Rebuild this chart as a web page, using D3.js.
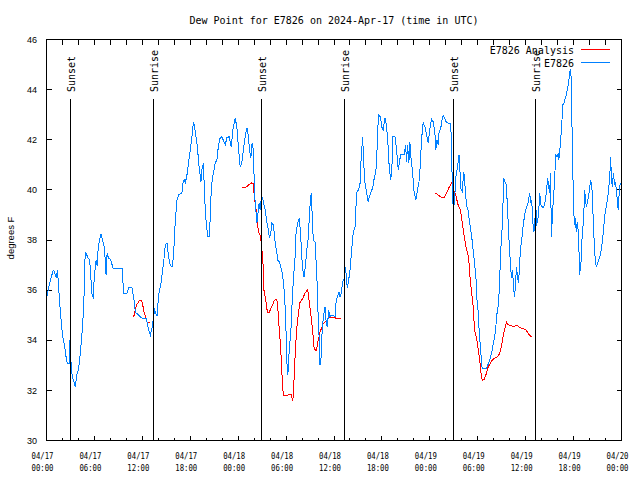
<!DOCTYPE html>
<html><head><meta charset="utf-8">
<script src="https://cdn.jsdelivr.net/npm/d3@7"></script>
<style>body{margin:0;background:#fff}</style>
</head><body><svg id="c" width="640" height="480" style="display:block;background:#fff"></svg>
<script>
const chartTitle = "Dew Point for E7826 on 2024-Apr-17 (time in UTC)";
const yAxisLabel = "degrees F";
const startTime = Date.UTC(2024, 3, 17, 0, 0);
const endTime = Date.UTC(2024, 3, 20, 0, 0);
const yTickValues = [30, 32, 34, 36, 38, 40, 42, 44, 46];
const legendNames = ["E7826 Analysis", "E7826"];

// [hours since 04/17 00:00 UTC, dew point °F]
const observedE7826 = [
[0.06,35.76],[0.25,36.08],[0.5,36.4],[0.84,36.8],[1.0,36.72],[1.21,36.52],[1.38,36.8],[1.54,36.0],[1.75,35.08],[2.0,34.2],
[2.25,33.8],[2.38,33.52],[2.5,33.2],[2.63,33.08],[2.88,33.08],[2.94,34.0],[3.0,33.52],[3.13,32.8],[3.25,32.52],[3.38,32.4],
[3.5,32.28],[3.63,32.12],[3.75,32.6],[4.0,32.8],[4.25,33.52],[4.5,34.48],[4.63,35.2],[4.75,36.2],[4.84,37.52],[4.96,37.48],
[5.19,37.28],[5.41,37.2],[5.59,36.32],[5.71,35.8],[5.84,35.72],[6.0,36.6],[6.21,37.2],[6.34,36.96],[6.46,37.6],[6.63,38.0],
[6.84,38.24],[7.0,38.0],[7.25,37.72],[7.46,36.6],[7.59,37.48],[7.75,37.28],[8.0,37.24],[8.34,36.88],[9.46,36.88],[9.66,35.88],
[10.09,35.88],[10.29,36.12],[10.71,36.08],[10.91,35.72],[11.13,35.12],[11.96,34.88],[12.5,34.88],[12.79,34.4],[13.0,34.2],[13.21,34.48],
[13.54,35.2],[13.84,34.96],[14.04,35.8],[14.34,36.28],[14.66,37.08],[14.88,37.8],[15.09,37.88],[15.29,37.32],[15.5,37.0],[15.71,36.92],
[15.91,37.32],[16.04,38.32],[16.21,39.08],[16.34,39.6],[16.54,39.8],[16.96,39.88],[17.09,40.28],[17.25,40.4],[17.38,40.28],[17.59,40.6],
[17.79,41.08],[18.0,41.6],[18.21,42.12],[18.41,42.72],[18.54,42.52],[18.71,42.12],[18.91,41.72],[19.04,41.08],[19.34,40.32],[19.46,40.8],
[19.66,41.08],[19.79,39.72],[20.0,38.68],[20.21,38.12],[20.41,38.12],[20.59,39.72],[20.75,40.4],[20.91,40.68],[21.13,41.08],[21.34,41.2],
[21.54,41.8],[21.75,42.08],[21.96,42.12],[22.38,41.8],[22.59,42.08],[22.88,42.12],[23.13,41.72],[23.34,42.4],[23.63,42.88],[23.84,42.48],
[24.04,41.68],[24.25,40.92],[24.46,41.08],[24.66,41.6],[24.88,42.12],[25.09,42.48],[25.29,42.12],[25.41,41.6],[25.59,41.28],[25.75,41.88],
[25.91,41.6],[26.04,39.88],[26.21,39.2],[26.34,38.68],[26.46,39.0],[26.63,39.48],[26.75,39.2],[26.88,39.6],[27.04,39.68],[27.16,39.52],
[27.38,39.2],[27.59,38.72],[27.79,38.4],[27.91,38.08],[28.09,38.28],[28.21,38.68],[28.41,38.6],[28.54,38.2],[28.66,37.8],[28.84,37.52],
[28.96,37.2],[29.16,37.12],[29.34,36.92],[29.54,36.68],[29.66,36.28],[29.79,35.88],[29.88,35.32],[30.0,34.28],[30.09,33.2],[30.21,32.6],
[30.29,32.92],[30.41,33.72],[30.59,34.28],[30.71,35.2],[30.84,36.0],[30.91,36.4],[31.13,37.32],[31.25,38.28],[31.46,38.68],[31.66,38.88],
[31.84,38.12],[31.96,37.32],[32.09,36.8],[32.25,36.52],[32.41,36.92],[32.59,37.6],[32.75,38.0],[32.91,38.88],[33.04,39.6],[33.16,39.88],
[33.29,38.8],[33.41,38.0],[33.63,37.92],[33.75,37.2],[33.91,36.12],[34.04,34.68],[34.16,34.0],[34.25,33.0],[34.38,33.32],[34.5,34.28],
[34.66,34.92],[34.88,35.32],[35.0,34.8],[35.16,34.52],[35.34,35.2],[35.5,34.92],[35.66,35.0],[36.13,34.96],[36.25,35.48],[36.41,35.72],
[36.63,35.92],[36.75,35.72],[36.96,35.92],[37.04,36.28],[37.29,36.48],[37.38,36.92],[37.5,36.68],[37.66,36.08],[37.79,36.28],[38.0,36.8],
[38.21,37.6],[38.41,38.32],[38.63,38.52],[38.84,39.88],[39.04,40.0],[39.25,40.2],[39.38,41.12],[39.59,42.12],[39.71,41.12],[39.88,40.28],
[40.09,39.88],[40.29,39.52],[40.41,39.72],[40.59,39.88],[40.84,40.08],[41.0,40.4],[41.21,40.68],[41.34,41.08],[41.46,42.4],[41.63,43.0],
[41.84,42.88],[41.96,42.52],[42.16,42.4],[42.38,42.88],[42.59,42.52],[42.79,41.68],[42.91,40.92],[43.09,40.4],[43.25,40.8],[43.34,42.12],
[43.63,42.12],[43.84,41.6],[44.04,40.8],[44.34,41.4],[44.79,41.4],[44.96,41.8],[45.09,41.12],[45.21,41.8],[45.38,41.08],[45.5,41.92],
[45.63,41.32],[45.84,40.68],[46.0,40.0],[46.25,39.6],[46.41,39.92],[46.63,40.28],[46.75,40.72],[46.96,42.0],[47.16,42.68],[47.38,42.52],
[47.59,42.2],[47.79,41.88],[48.0,42.4],[48.21,42.84],[48.41,42.72],[48.63,42.32],[48.75,41.6],[48.91,42.0],[49.04,41.8],[49.16,42.32],
[49.38,42.48],[49.54,42.84],[49.66,42.96],[49.88,42.84],[50.09,42.68],[50.63,42.64],[50.71,41.4],[50.79,40.6],[50.84,39.6],[50.96,39.28],
[51.09,39.52],[51.25,40.52],[51.41,40.8],[51.54,41.08],[51.66,41.4],[51.75,40.88],[51.91,40.0],[52.09,39.92],[52.21,40.72],[52.34,40.52],
[52.46,39.88],[52.63,39.32],[52.79,39.2],[52.91,38.88],[53.0,38.68],[53.16,38.32],[53.34,37.88],[53.46,37.48],[53.59,37.12],[53.71,36.68],
[53.84,36.28],[53.91,35.6],[54.04,35.2],[54.16,34.48],[54.29,33.88],[54.41,33.4],[54.54,32.92],[54.66,32.88],[55.09,32.88],[55.21,32.96],
[55.38,33.12],[55.59,33.32],[55.75,33.52],[55.91,33.8],[56.09,34.08],[56.25,34.48],[56.38,35.0],[56.54,35.32],[56.66,35.8],[56.75,36.48],
[56.88,37.6],[57.0,38.12],[57.13,39.08],[57.25,40.48],[57.41,40.32],[57.59,40.2],[57.71,39.32],[57.84,38.52],[57.96,37.68],[58.09,37.12],
[58.21,36.48],[58.34,36.8],[58.46,36.28],[58.59,35.72],[58.71,36.08],[58.84,36.92],[58.96,36.6],[59.09,36.28],[59.21,36.8],[59.34,37.6],
[59.5,38.0],[59.63,38.4],[59.75,38.72],[59.91,39.08],[60.09,39.28],[60.29,39.48],[60.5,39.88],[60.63,39.52],[60.75,39.6],[60.91,38.68],
[61.04,38.32],[61.13,38.88],[61.25,37.92],[61.34,39.2],[61.46,38.68],[61.63,39.08],[61.75,39.88],[61.91,39.4],[62.09,39.32],[62.25,39.28],
[62.41,39.48],[62.59,39.88],[62.75,40.48],[62.88,40.12],[63.0,39.88],[63.13,40.68],[63.21,38.12],[63.41,39.32],[63.63,40.4],[63.75,41.4],
[63.91,41.32],[64.09,41.48],[64.16,41.2],[64.34,41.8],[64.5,42.52],[64.66,43.4],[64.79,43.44],[64.91,43.6],[65.09,43.8],[65.21,44.0],
[65.38,44.28],[65.5,44.68],[65.63,44.8],[65.71,44.4],[65.84,41.8],[65.91,40.6],[66.0,39.48],[66.09,38.6],[66.21,38.88],[66.34,38.32],
[66.46,38.72],[66.63,38.2],[66.75,36.6],[66.96,37.2],[67.09,38.32],[67.25,38.72],[67.38,40.0],[67.46,39.72],[67.59,39.32],[67.79,39.6],
[68.0,40.0],[68.13,40.4],[68.29,40.12],[68.41,39.2],[68.54,38.2],[68.71,37.2],[68.84,36.92],[69.04,37.12],[69.25,37.28],[69.46,37.6],
[69.59,37.92],[69.75,38.4],[69.88,38.92],[70.09,39.32],[70.29,39.72],[70.5,40.4],[70.59,40.92],[70.63,41.32],[70.71,40.72],[70.84,40.12],
[71.0,40.68],[71.13,40.2],[71.25,40.32],[71.41,39.8],[71.59,39.2],[71.66,39.6],[71.75,40.12],[71.88,40.28]
];

const analysisDay1 = [
[10.91,34.92],[11.25,35.4],[11.59,35.56],[11.84,35.6],[12.0,35.52],[12.16,35.2],[12.38,34.96],[12.59,34.72],[12.79,34.72],[13.0,34.68]
];
const analysisDay2 = [
[24.5,40.08],[25.09,40.12],[25.29,40.2],[25.5,40.24],[25.71,40.28],[25.91,40.24],[26.0,39.8],[26.13,39.48],[26.25,39.2],[26.34,38.8],
[26.46,38.52],[26.59,38.28],[26.75,38.2],[26.88,37.92],[27.0,37.52],[27.09,37.2],[27.16,36.68],[27.25,35.88],[27.41,35.72],[27.5,35.48],
[27.66,35.12],[27.91,35.12],[28.09,35.28],[28.34,35.44],[28.54,35.6],[28.84,35.64],[28.96,35.32],[29.09,34.68],[29.25,34.0],[29.38,33.32],
[29.46,32.8],[29.54,32.32],[29.66,31.8],[30.16,31.8],[30.38,31.84],[30.63,31.84],[30.71,31.72],[30.84,31.56],[30.91,31.92],[31.04,32.68],
[31.16,33.6],[31.34,34.48],[31.54,35.08],[31.75,35.52],[31.96,35.6],[32.16,35.72],[32.38,35.88],[32.66,36.0],[32.79,35.88],[32.91,35.48],
[33.09,35.08],[33.21,34.72],[33.34,34.32],[33.5,33.72],[33.66,33.6],[33.84,33.6],[33.91,33.88],[34.09,34.08],[34.21,34.28],[34.34,34.4],
[34.5,34.52],[34.66,34.68],[34.88,34.72],[35.09,34.8],[35.29,34.88],[35.5,34.92],[35.91,34.92],[36.25,34.88],[36.84,34.88]
];
const analysisDay3 = [
[48.63,39.88],[49.04,39.8],[49.34,39.72],[49.59,39.68],[49.75,39.68],[49.96,39.8],[50.16,39.92],[50.38,40.08],[50.59,40.2],[50.75,40.28],
[50.91,40.0],[51.13,39.88],[51.34,39.68],[51.46,39.48],[51.63,39.32],[51.84,39.2],[52.0,38.8],[52.16,38.48],[52.34,38.08],[52.46,37.88],
[52.59,37.6],[52.75,37.48],[52.88,37.2],[53.0,36.6],[53.13,36.2],[53.25,35.88],[53.41,35.4],[53.54,34.72],[53.66,34.32],[53.84,34.12],
[53.96,33.88],[54.09,33.52],[54.21,33.32],[54.34,32.92],[54.46,32.52],[54.63,32.4],[54.79,32.44],[54.96,32.56],[55.13,32.72],[55.29,32.92],
[55.5,33.04],[55.71,33.16],[55.91,33.24],[56.13,33.28],[56.34,33.32],[56.54,33.36],[56.75,33.48],[56.91,33.68],[57.09,34.0],[57.25,34.28],
[57.41,34.48],[57.59,34.72],[57.75,34.64],[58.0,34.6],[58.34,34.56],[58.63,34.56],[58.84,34.6],[59.04,34.56],[59.46,34.48],[59.88,34.44],
[60.09,34.4],[60.29,34.28],[60.5,34.2],[60.79,34.12]
];

const sunsetHours = [2.91, 26.91, 50.91];
const sunriseHours = [13.29, 37.29, 61.16];

// ---------- drawing ----------
const RED = "#ff0000", BLUE = "#0080ff";
const MONO = "'DejaVu Sans Mono', monospace";
const SANS = "'Liberation Sans', Arial, sans-serif";
const svg = d3.select("#c");
const toDate = h => new Date(startTime + h * 3600e3);
const x = d3.scaleUtc().domain([new Date(startTime), new Date(endTime)]).range([46.5, 621.5]);
const y = d3.scaleLinear().domain([30, 46]).range([440.5, 39.5]);
const L = x.range()[0], R = x.range()[1], T = y.range()[1], B = y.range()[0];

// title
svg.append("text").attr("x", (L + R) / 2).attr("y", 24).attr("text-anchor", "middle")
  .attr("font-family", MONO).attr("font-size", 10).text(chartTitle);

// y label
svg.append("text").attr("transform", "translate(14,238) rotate(-90)").attr("text-anchor", "middle")
  .attr("font-family", SANS).attr("font-size", 9.5).text(yAxisLabel);

const g = svg.append("g").attr("shape-rendering", "crispEdges");

// frame
g.append("rect").attr("x", L).attr("y", T).attr("width", R - L).attr("height", B - T)
  .attr("fill", "none").attr("stroke", "#000");

// y ticks + labels
const yAxisL = d3.axisLeft(y).tickValues(yTickValues).tickSize(-5).tickPadding(0).tickFormat("").offset(0);
const yAxisR = d3.axisRight(y).tickValues(yTickValues).tickSize(-5).tickFormat("").offset(0);
g.append("g").attr("transform", `translate(${L},0)`).call(yAxisL).call(s => s.select(".domain").remove());
g.append("g").attr("transform", `translate(${R},0)`).call(yAxisR).call(s => s.select(".domain").remove());
svg.append("g").selectAll("text").data(yTickValues).join("text")
  .attr("x", 37).attr("y", d => y(d)).attr("dy", "0.36em").attr("text-anchor", "end")
  .attr("font-family", SANS).attr("font-size", 9).text(d => d);

// x ticks
const minorTicks = x.ticks(d3.utcHour.every(2));
const majorTicks = x.ticks(d3.utcHour.every(6));
const isMajor = d => d.getUTCHours() % 6 === 0;
g.append("g").attr("transform", `translate(0,${B})`)
  .call(d3.axisBottom(x).tickValues(minorTicks.filter(d => !isMajor(d))).tickSize(-3).tickFormat("").offset(0))
  .call(s => s.select(".domain").remove());
g.append("g").attr("transform", `translate(0,${B})`)
  .call(d3.axisBottom(x).tickValues(majorTicks).tickSize(-5).tickFormat("").offset(0))
  .call(s => s.select(".domain").remove());
g.append("g").attr("transform", `translate(0,${T})`)
  .call(d3.axisTop(x).tickValues(minorTicks).tickSize(-5).tickFormat("").offset(0))
  .call(s => s.select(".domain").remove());

const fmtDay = d3.utcFormat("%m/%d"), fmtTime = d3.utcFormat("%H:%M");
const xl = svg.append("g").selectAll("g").data(majorTicks).join("g");
xl.append("text").attr("x", d => x(d) - 4).attr("y", 459).attr("text-anchor", "middle")
  .attr("font-family", MONO).attr("font-size", 9.5).attr("textLength", 22).attr("lengthAdjust", "spacingAndGlyphs")
  .text(d => fmtDay(d));
xl.append("text").attr("x", d => x(d) - 4).attr("y", 471).attr("text-anchor", "middle")
  .attr("font-family", MONO).attr("font-size", 9.5).attr("textLength", 22).attr("lengthAdjust", "spacingAndGlyphs")
  .text(d => fmtTime(d));

// data lines
const line = d3.line().x(d => x(toDate(d[0]))).y(d => y(d[1]));
const lines = svg.append("g").attr("fill", "none").attr("stroke-width", 1).attr("shape-rendering", "crispEdges");
[analysisDay1, analysisDay2, analysisDay3].forEach(seg =>
  lines.append("path").datum(seg).attr("stroke", RED).attr("d", line));
lines.append("path").datum(observedE7826).attr("stroke", BLUE).attr("d", line);

// sunrise / sunset markers
const sunEvents = sunsetHours.map(h => ({ h, label: "Sunset" }))
  .concat(sunriseHours.map(h => ({ h, label: "Sunrise" })));
const sg = svg.append("g");
sg.selectAll("line").data(sunEvents).join("line")
  .attr("x1", d => Math.round(x(toDate(d.h))) + 0.5).attr("x2", d => Math.round(x(toDate(d.h))) + 0.5)
  .attr("y1", 99).attr("y2", B).attr("stroke", "#000").attr("shape-rendering", "crispEdges");
sg.selectAll("text").data(sunEvents).join("text")
  .attr("transform", d => `translate(${Math.round(x(toDate(d.h))) + 5},92) rotate(-90)`)
  .attr("text-anchor", "start").attr("font-family", MONO).attr("font-size", 10).text(d => d.label);

// legend
const lg = svg.append("g");
legendNames.forEach((name, i) => {
  const yy = 49.5 + i * 13;
  lg.append("text").attr("x", 574).attr("y", yy + 4.5).attr("text-anchor", "end")
    .attr("font-family", MONO).attr("font-size", 10).text(name);
  lg.append("line").attr("x1", 581).attr("x2", 610).attr("y1", yy).attr("y2", yy)
    .attr("stroke", i === 0 ? RED : BLUE).attr("shape-rendering", "crispEdges");
});
</script>
</body></html>
